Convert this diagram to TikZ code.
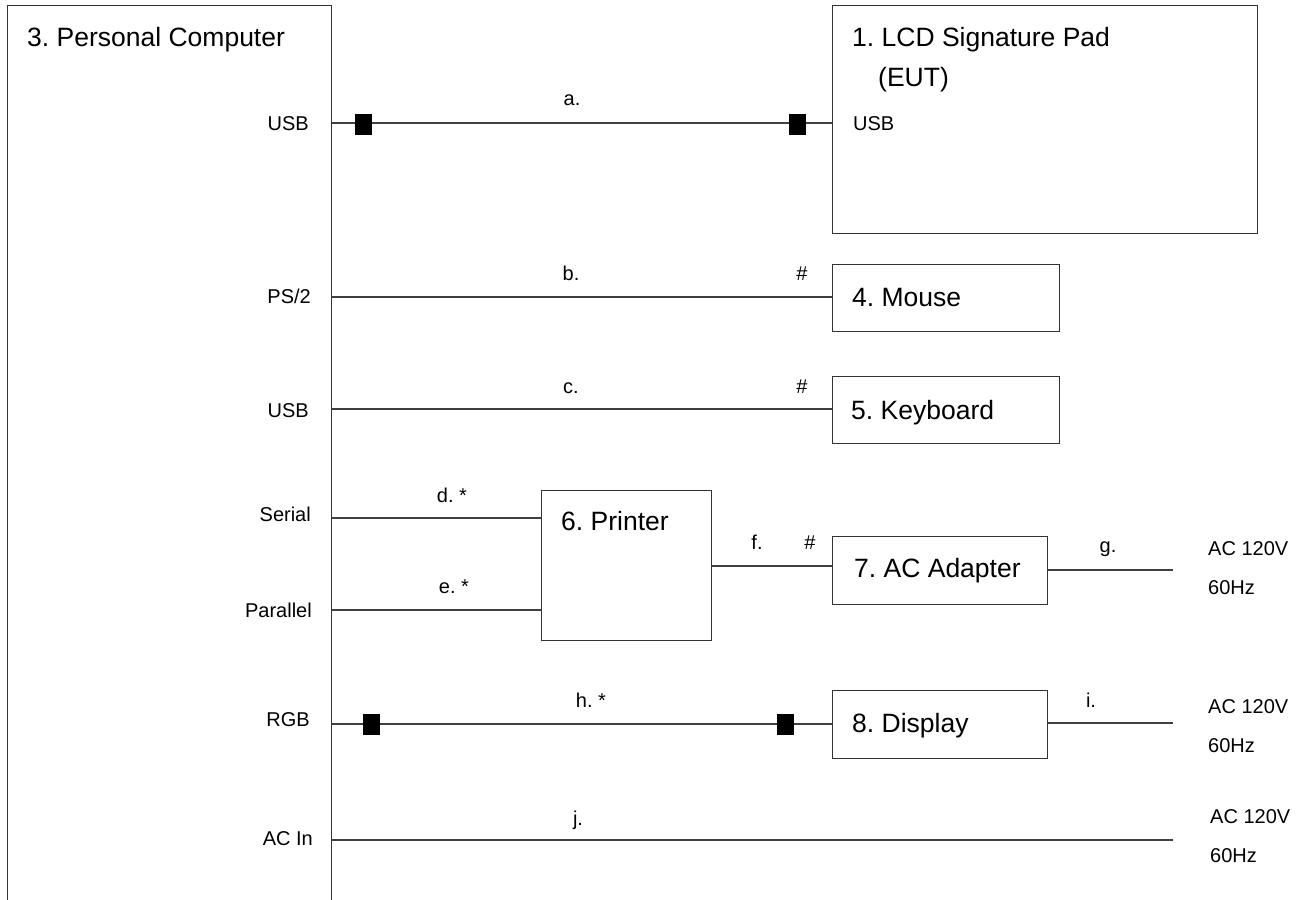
\documentclass[tikz,border=0pt]{standalone}
\usepackage{fontspec}
\setmainfont{Liberation Sans}
\begin{document}
\frenchspacing
\begin{tikzpicture}[x=1pt,y=-1pt,
  box/.style={draw=black!80, line width=1.3pt, rectangle, inner sep=0pt, anchor=north west},
  wire/.style={draw=black!75, line width=1.3pt},
  plug/.style={fill=black, inner sep=0pt, minimum width=17pt, minimum height=21pt},
  big/.style={font=\fontsize{26.5}{31}\selectfont, inner sep=0pt, anchor=base west},
  small/.style={font=\fontsize{20}{24}\selectfont, inner sep=0pt, anchor=base},
  port/.style={small, anchor=base east},
  mains/.style={small, anchor=base west},
]
\useasboundingbox (0,0) rectangle (1305,899);
\clip (0,0) rectangle (1305,899);

% boxes
\node[box, minimum width=324pt, minimum height=930pt] (pc) at (7,5) {};
\node[box, minimum width=425pt, minimum height=228pt] (lcd) at (832,5) {};
\node[box, minimum width=227pt, minimum height=67pt] (mouse) at (832,264) {};
\node[box, minimum width=227pt, minimum height=67pt] (kbd) at (832,376) {};
\node[box, minimum width=170pt, minimum height=150pt] (printer) at (541,490) {};
\node[box, minimum width=215pt, minimum height=68pt] (adapter) at (832,536) {};
\node[box, minimum width=215pt, minimum height=68pt] (display) at (832,690) {};

% box titles
\node[big] (tpc) at (27,46) {3. Personal Computer};
\node[big] (tlcd) at (852,47) {1. LCD Signature Pad};
\node[big] (teut) at (878,86) {(EUT)};
\node[small, anchor=base west] (lcdusb) at (853,130) {USB};
\node[big] (tmouse) at (852,306) {4. Mouse};
\node[big] (tkbd) at (851,419) {5. Keyboard};
\node[big] (tprinter) at (561,530) {6. Printer};
\node[big] (tadapter) at (854,577) {7. AC Adapter};
\node[big] (tdisplay) at (852,732) {8. Display};

% PC ports
\node[port] (pusb1) at (309,130) {USB};
\node[port] (pps2) at (311,303) {PS/2};
\node[port] (pusb2) at (309,417) {USB};
\node[port] (pser) at (311,521) {Serial};
\node[port] (ppar) at (312,617) {Parallel};
\node[port] (prgb) at (310,726) {RGB};
\node[port] (pac) at (313,845) {AC In};

% free ends
\coordinate (gend) at (1173,570);
\coordinate (iend) at (1173,723);
\coordinate (jend) at (1173,840);

% wires
\draw[wire] (pc.east |- 0,123) -- (lcd.west |- 0,123);
\draw[wire] (pc.east |- 0,297) -- (mouse.west |- 0,297);
\draw[wire] (pc.east |- 0,409) -- (kbd.west |- 0,409);
\draw[wire] (pc.east |- 0,518) -- (printer.west |- 0,518);
\draw[wire] (pc.east |- 0,610) -- (printer.west |- 0,610);
\draw[wire] (printer.east |- 0,566) -- (adapter.west |- 0,566);
\draw[wire] (adapter.east |- gend) -- (gend);
\draw[wire] (pc.east |- 0,724) -- (display.west |- 0,724);
\draw[wire] (display.east |- iend) -- (iend);
\draw[wire] (pc.east |- jend) -- (jend);

% plugs
\node[plug] (pa1) at (363.5,124) {};
\node[plug] (pa2) at (797,124) {};
\node[plug] (ph1) at (371.5,724) {};
\node[plug] (ph2) at (785.5,724) {};

% wire labels
\node[small] (la) at (572,105) {a.};
\node[small] (lb) at (571,280) {b.};
\node[small] (hb) at (802,280) {\#};
\node[small] (lc) at (571,393) {c.};
\node[small] (hc) at (802,393) {\#};
\node[small] (ld) at (452,502) {d. *};
\node[small] (le) at (454,593) {e. *};
\node[small] (lf) at (757,549) {f.};
\node[small] (hf) at (810,549) {\#};
\node[small] (lg) at (1108,552) {g.};
\node[small] (lh) at (591,707) {h. *};
\node[small] (li) at (1091,707) {i.};
\node[small] (lj) at (578,825) {j.};

% mains
\node[mains] (m1a) at (1208,555) {AC 120V};
\node[mains] (m1b) at (1208,594) {60Hz};
\node[mains] (m2a) at (1208,713) {AC 120V};
\node[mains] (m2b) at (1208,752) {60Hz};
\node[mains] (m3a) at (1210,823) {AC 120V};
\node[mains] (m3b) at (1210,862) {60Hz};
\end{tikzpicture}
\end{document}
